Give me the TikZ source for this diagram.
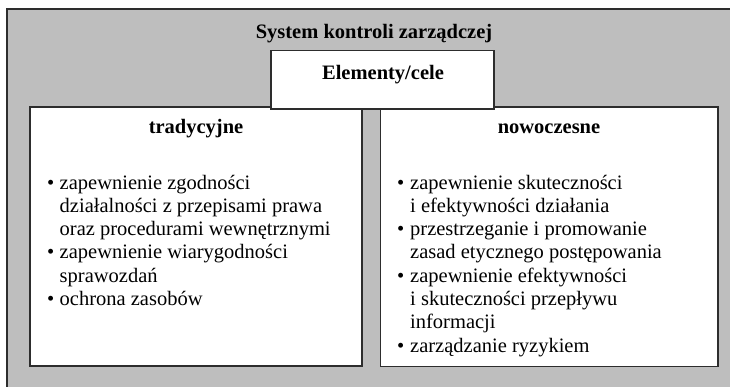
\documentclass[tikz,border=0pt]{standalone}
\usepackage{fontspec}
\setmainfont{Liberation Serif}
\definecolor{bggray}{RGB}{190,190,190}
\definecolor{edge}{RGB}{45,45,45}
\begin{document}
\begin{tikzpicture}[x=1pt,y=-1pt,
  box/.style={draw=edge, line width=1.6pt, fill=white, inner sep=0pt},
  txt/.style={inner sep=0pt, anchor=base west, font=\fontsize{20.5}{24}\selectfont},
  head/.style={inner sep=0pt, anchor=base, font=\fontsize{20.5}{24}\selectfont\bfseries},
  bul/.style={inner sep=0pt, anchor=base, font=\fontsize{20.5}{24}\selectfont}]
\useasboundingbox (0,0) rectangle (730,386);
\clip (0,0) rectangle (730,386);
\draw[draw=edge, line width=1.8pt, fill=bggray] (7,9) rectangle (745,400);
\node[head] (sys) at (374,38) {System kontroli zarządczej};
\node[box, minimum width=332pt, minimum height=259pt] (trad) at (196,236.5) {};
\node[box, minimum width=337.5pt, minimum height=259.5pt] (nowo) at (549.25,236.75) {};
\node[box, minimum width=223pt, minimum height=58.5pt] (elem) at (382.5,79.75) {};
\node[head] (elemt) at (383,79) {Elementy/cele};
\node[head] (tradh) at (196,133) {tradycyjne};
\node[head] (nowoh) at (549,133) {nowoczesne};
% left list
\foreach \t [count=\i] in {zapewnienie zgodności,działalności z przepisami prawa,oraz procedurami wewnętrznymi,zapewnienie wiarygodności,sprawozdań,ochrona zasobów}
  \node[txt] (L\i) at (59.5,{189+(\i-1)*23.3}) {\t};
\foreach \i in {1,4,6}
  \node[bul] (LB\i) at (50.7,{189+(\i-1)*23.3}) {•};
% right list
\foreach \t [count=\i] in {zapewnienie skuteczności,i efektywności działania,przestrzeganie i promowanie,zasad etycznego postępowania,zapewnienie efektywności,i skuteczności przepływu,informacji,zarządzanie ryzykiem}
  \node[txt] (R\i) at (410,{189+(\i-1)*23.3}) {\t};
\foreach \i in {1,3,5,8}
  \node[bul] (RB\i) at (400.7,{189+(\i-1)*23.3}) {•};
\end{tikzpicture}
\end{document}
